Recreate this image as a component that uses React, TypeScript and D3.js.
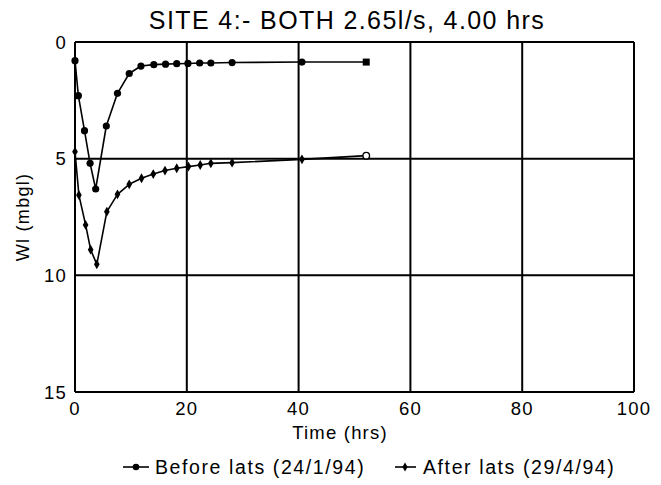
import React from "react";
import * as d3 from "d3";

const timeBefore = [0, 0.6, 1.7, 2.7, 3.7, 5.6, 7.6, 9.7, 11.8, 14.1, 16.2, 18.2, 20.2, 22.3, 24.3, 28.1, 40.6, 52.1];
const wlBefore = [0.8, 2.3, 3.8, 5.2, 6.3, 3.6, 2.2, 1.35, 1.03, 0.97, 0.95, 0.93, 0.92, 0.9, 0.9, 0.88, 0.86, 0.86];
const timeAfter = [0, 0.7, 1.9, 2.8, 3.9, 5.7, 7.6, 9.7, 11.9, 14.0, 16.1, 18.2, 20.3, 22.4, 24.3, 28.1, 40.6, 52.1];
const wlAfter = [4.7, 6.56, 7.84, 8.9, 9.53, 7.27, 6.53, 6.1, 5.84, 5.66, 5.51, 5.41, 5.34, 5.27, 5.2, 5.17, 5.03, 4.87];
const xTicks = [0, 20, 40, 60, 80, 100];
const yTicks = [0, 5, 10, 15];
const seriesNames = ["Before lats (24/1/94)", "After lats (29/4/94)"];

const W = 661, H = 485;
const L = 75, R = 634, T = 42, B = 392;
const FONT = "'Liberation Sans', Arial, sans-serif";

export default function App() {
  const x = d3.scaleLinear().domain([0, 100]).range([L, R]);
  const y = d3.scaleLinear().domain([0, 15]).range([T, B]);
  const before = timeBefore.map((t, i) => [t, wlBefore[i]] as [number, number]);
  const after = timeAfter.map((t, i) => [t, wlAfter[i]] as [number, number]);
  const line = d3.line<[number, number]>().x(d => x(d[0])).y(d => y(d[1])).curve(d3.curveLinear);

  return (
    <svg width={W} height={H} style={{ position: "absolute", left: 0, top: 0, background: "#fff" }} fontFamily={FONT}>
      <rect x={0} y={0} width={W} height={H} fill="#fff" />
      <text x={347} y={20} textAnchor="middle" dominantBaseline="central" fontSize={25} letterSpacing={1.4} fill="#000">
        SITE 4:- BOTH 2.65l/s, 4.00 hrs
      </text>
      {/* grid */}
      {xTicks.map(t => (
        <line key={"gx" + t} x1={x(t)} x2={x(t)} y1={T} y2={B} stroke="#000" strokeWidth={2} />
      ))}
      {yTicks.map(t => (
        <line key={"gy" + t} x1={L} x2={R} y1={y(t)} y2={y(t)} stroke="#000" strokeWidth={2} />
      ))}
      {/* tick labels */}
      {yTicks.map(t => (
        <text key={"yl" + t} x={L - 8} y={y(t)} textAnchor="end" dominantBaseline="central" fontSize={18.5} letterSpacing={1.2} fill="#000">
          {t}
        </text>
      ))}
      {xTicks.map(t => (
        <text key={"xl" + t} x={x(t)} y={408} textAnchor="middle" dominantBaseline="central" fontSize={18.5} letterSpacing={1.2} fill="#000">
          {t}
        </text>
      ))}
      <text x={340} y={432} textAnchor="middle" dominantBaseline="central" fontSize={18.5} letterSpacing={1.2} fill="#000">
        Time (hrs)
      </text>
      <text transform={`translate(23,${(T + B) / 2}) rotate(-90)`} textAnchor="middle" dominantBaseline="central" fontSize={18} letterSpacing={1.3} fill="#000">
        Wl (mbgl)
      </text>
      {/* series */}
      <path d={line(before) || ""} fill="none" stroke="#000" strokeWidth={1.6} strokeLinejoin="round" />
      <path d={line(after) || ""} fill="none" stroke="#000" strokeWidth={1.6} strokeLinejoin="round" />
      {before.map((d, i) =>
        i === before.length - 1 ? (
          <rect key={"bp" + i} x={x(d[0]) - 3.5} y={y(d[1]) - 3.5} width={7} height={7} fill="#000" />
        ) : (
          <circle key={"bp" + i} cx={x(d[0])} cy={y(d[1])} r={3.6} fill="#000" />
        )
      )}
      {after.map((d, i) =>
        i === after.length - 1 ? (
          <circle key={"ap" + i} cx={x(d[0])} cy={y(d[1])} r={3.3} fill="#fff" stroke="#000" strokeWidth={1.4} />
        ) : (
          <path key={"ap" + i} d={d3.symbol(d3.symbolDiamond, 28)() || ""} transform={`translate(${x(d[0])},${y(d[1])})`} fill="#000" />
        )
      )}
      {/* legend */}
      <line x1={123} x2={149} y1={467} y2={467} stroke="#000" strokeWidth={1.6} />
      <circle cx={136} cy={467} r={3.3} fill="#000" />
      <text x={155} y={467} dominantBaseline="central" fontSize={19.5} letterSpacing={1.6} fill="#000">
        {seriesNames[0]}
      </text>
      <line x1={395} x2={416} y1={467} y2={467} stroke="#000" strokeWidth={1.6} />
      <path d={d3.symbol(d3.symbolDiamond, 24)() || ""} transform="translate(405,467)" fill="#000" />
      <text x={423} y={467} dominantBaseline="central" fontSize={19.5} letterSpacing={1.6} fill="#000">
        {seriesNames[1]}
      </text>
    </svg>
  );
}
